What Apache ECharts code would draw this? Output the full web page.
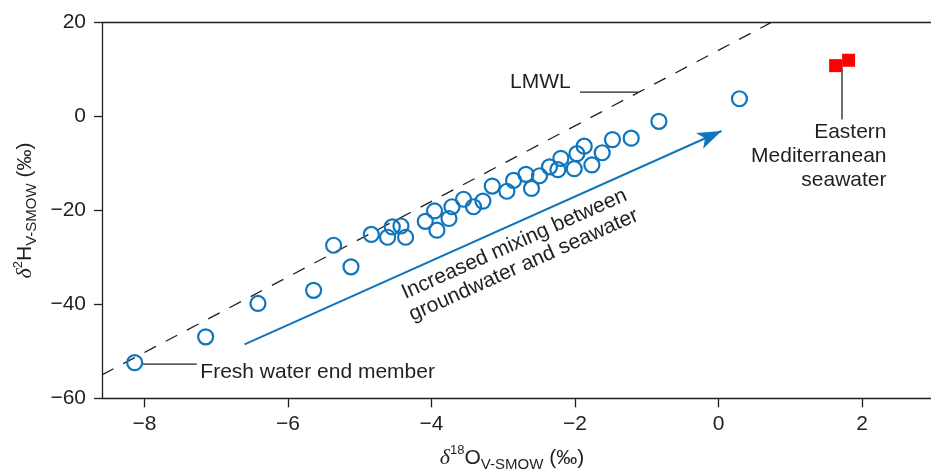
<!DOCTYPE html>
<html><head><meta charset="utf-8">
<script src="https://cdn.jsdelivr.net/npm/echarts@6/dist/echarts.min.js"></script>
<style>html,body{margin:0;padding:0;background:#fff}#c{width:931px;height:471px}</style>
</head><body><div id="c"></div>
<script>
// ---- data ----
const sampleX = [-8.135,-7.146,-6.417,-5.642,-5.363,-5.121,-4.838,-4.611,-4.546,-4.425,-4.36,-4.086,-3.957,-3.924,-3.756,-3.714,-3.553,-3.414,-3.283,-3.153,-2.949,-2.856,-2.684,-2.606,-2.494,-2.355,-2.239,-2.197,-2.011,-1.974,-1.872,-1.765,-1.621,-1.478,-1.217,-0.831,0.291];
const sampleY = [-52.4,-46.9,-39.8,-37.0,-27.4,-32.0,-25.1,-25.7,-23.5,-23.3,-25.7,-22.3,-20.1,-24.2,-21.7,-19.2,-17.6,-19.2,-18.0,-14.8,-15.9,-13.6,-12.3,-15.3,-12.6,-10.7,-11.3,-8.9,-11.1,-7.9,-6.3,-10.3,-7.7,-4.9,-4.6,-1.0,3.8];
const seawaterX = [1.631, 1.812];
const seawaterY = [10.85, 12.0];
const lmwlX = [-8.59, 0.729];
const lmwlY = [-55.0, 20];
const arrowX = [-6.604, 0.041];
const arrowY = [-48.5, -3.07];
const lmwlLeaderX = [-1.93, -1.12];
const lmwlLeaderY = [5.2, 5.2];
const freshLeaderX = [-8.02, -7.27];
const freshLeaderY = [-52.7, -52.7];
const seaLeaderX = [1.72, 1.72];
const seaLeaderY = [10.5, -0.64];
const noteText = ['LMWL', 'Fresh water end member', 'Eastern\nMediterranean\nseawater', 'Increased mixing between\ngroundwater and seawater'];
const noteX = [-2.06, -7.22, 2.34, -2.78];
const noteY = [7.26, -54.4, -8.46, -29.4];
const xTicks = [-8, -6, -4, -2, 0, 2];
const yTicks = [-60, -40, -20, 0, 20];

// ---- styling ----
const INK = '#231f20';
const BLUE = '#0f75bd';
const FONT = '"Liberation Sans", Arial, Helvetica, sans-serif';
const zip = (a, b) => a.map((v, i) => [v, b[i]]);
const minus = v => String(v).replace('-', '\u2212');

const noteStyles = [
  {align: 'right', verticalAlign: 'middle'},
  {align: 'left', verticalAlign: 'middle'},
  {align: 'right', verticalAlign: 'middle', lineHeight: 24},
  {align: 'center', verticalAlign: 'middle', lineHeight: 23, rotate: 24}
];

const nameRich = {
  d: {fontFamily: '"Liberation Serif", "Times New Roman", serif', fontStyle: 'italic', fontSize: 22, color: INK, lineHeight: 28, verticalAlign: 'middle'},
  sup: {fontFamily: FONT, fontSize: 13, color: INK, lineHeight: 13, verticalAlign: 'top'},
  b: {fontFamily: FONT, fontSize: 21, color: INK, lineHeight: 28, verticalAlign: 'middle'},
  sub: {fontFamily: FONT, fontSize: 15, color: INK, lineHeight: 15, verticalAlign: 'bottom'}
};

const axisLine = {show: true, onZero: false, lineStyle: {color: INK, width: 1.3}};

const chart = echarts.init(document.getElementById('c'), null, {renderer: 'canvas'});
chart.setOption({
  animation: false,
  backgroundColor: '#fff',
  grid: {left: 102, right: 0, top: 22.7, bottom: 72.7, containLabel: false, outerBoundsMode: 'none'},
  xAxis: [{
    type: 'value', min: -8.59, max: 2.96, position: 'bottom',
    axisLine: axisLine,
    axisTick: {show: true, inside: false, length: 9, customValues: xTicks, lineStyle: {color: INK, width: 1.3}},
    axisLabel: {customValues: xTicks, formatter: minus, fontSize: 21, fontFamily: FONT, color: INK, margin: 15},
    splitLine: {show: false},
    name: '{d|\u03b4}{sup|18}{b|O}{sub|V-SMOW}{b| (\u2030)}',
    nameLocation: 'middle', nameGap: 46,
    nameTextStyle: {rich: nameRich, padding: [0, 9, 0, 0]}
  }, {
    type: 'value', min: -8.59, max: 2.96, position: 'top',
    axisLine: axisLine, axisTick: {show: false}, axisLabel: {show: false}, splitLine: {show: false}
  }],
  yAxis: {
    type: 'value', min: -60, max: 20, interval: 20,
    axisLine: axisLine,
    axisTick: {show: true, inside: false, length: 8, lineStyle: {color: INK, width: 1.3}},
    axisLabel: {formatter: minus, fontSize: 21, fontFamily: FONT, color: INK, margin: 16},
    splitLine: {show: false},
    name: '{d|\u03b4}{sup|2}{b|H}{sub|V-SMOW}{b| (\u2030)}',
    nameLocation: 'middle', nameGap: 62, nameRotate: 90,
    nameTextStyle: {rich: nameRich}
  },
  series: [
    {
      type: 'line', data: zip(lmwlX, lmwlY), symbol: 'none', silent: true, z: 2,
      lineStyle: {color: INK, width: 1.3, type: [13, 11]}
    },
    {
      type: 'line', data: zip(lmwlLeaderX, lmwlLeaderY), symbol: 'none', silent: true,
      lineStyle: {color: INK, width: 1.3}
    },
    {
      type: 'line', data: zip(freshLeaderX, freshLeaderY), symbol: 'none', silent: true,
      lineStyle: {color: INK, width: 1.3}
    },
    {
      type: 'line', data: zip(seaLeaderX, seaLeaderY), symbol: 'none', silent: true,
      lineStyle: {color: INK, width: 1.3}
    },
    {
      type: 'line', data: [], silent: true,
      markLine: {
        silent: true, symbol: ['none', 'arrow'], symbolSize: [13, 24],
        label: {show: false},
        lineStyle: {color: BLUE, width: 2, type: 'solid', opacity: 1},
        data: [[{coord: [arrowX[0], arrowY[0]]}, {coord: [arrowX[1], arrowY[1]]}]]
      }
    },
    {
      type: 'scatter', data: zip(sampleX, sampleY), symbol: 'circle', symbolSize: 15, z: 5,
      itemStyle: {color: 'rgba(255,255,255,0)', borderColor: BLUE, borderWidth: 2.2, opacity: 1}
    },
    {
      type: 'scatter', data: zip(seawaterX, seawaterY), symbol: 'rect', symbolSize: 13, z: 5,
      itemStyle: {color: '#ff0000', opacity: 1}
    },
    {
      type: 'scatter', symbolSize: 0, silent: true, z: 6,
      itemStyle: {opacity: 1},
      data: noteText.map((t, i) => ({
        value: [noteX[i], noteY[i]],
        label: Object.assign({show: true, position: 'inside', formatter: t, fontSize: 21, fontFamily: FONT, color: INK}, noteStyles[i])
      }))
    }
  ]
});
</script>
</body></html>
